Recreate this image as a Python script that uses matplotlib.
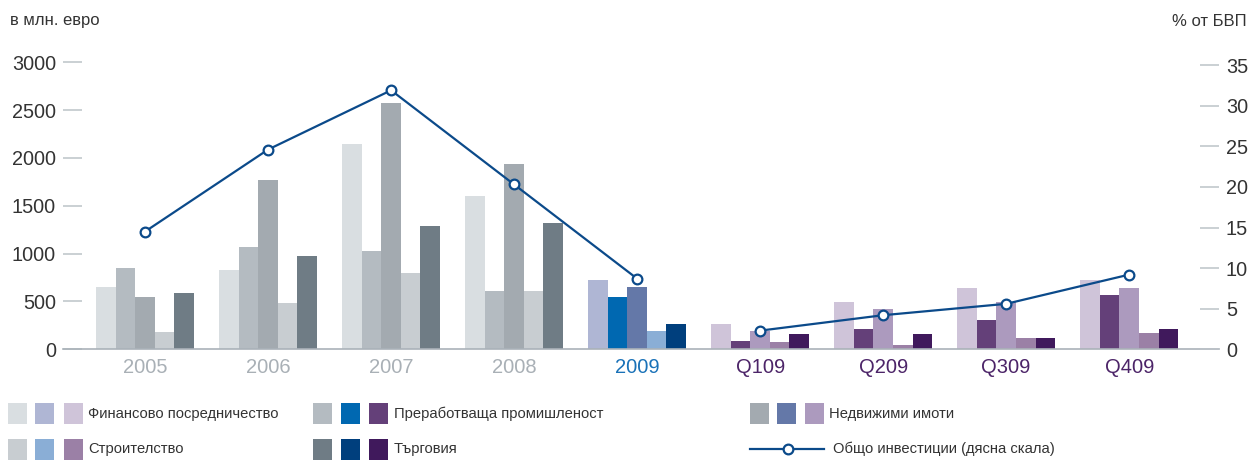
import matplotlib.pyplot as plt
from matplotlib.patches import Rectangle
from matplotlib.lines import Line2D

plt.rcParams['font.family'] = ['Liberation Sans', 'DejaVu Sans']

# Данни
periods = ['2005', '2006', '2007', '2008', '2009', 'Q109', 'Q209', 'Q309', 'Q409']
finance = [651, 829, 2145, 1602, 724, 264, 494, 640, 724]
manufacturing = [850, 1069, 1027, 609, 547, 87, 212, 306, 567]
real_estate = [547, 1770, 2574, 1936, 651, 191, 421, 490, 640]
construction = [181, 484, 797, 609, 191, 76, 45, 118, 170]
trade = [588, 975, 1288, 1320, 264, 160, 160, 118, 212]
total_pct = [14.5, 24.6, 31.9, 20.3, 8.7, 2.3, 4.2, 5.6, 9.2]

series_names = ['Финансово посредничество', 'Преработваща промишленост', 'Недвижими имоти',
                'Строителство', 'Търговия']
line_name = 'Общо инвестиции (дясна скала)'

# цветове: години 2005-2008 (сиви), 2009 (сини), тримесечия (лилави)
grey = ['#d9dee1', '#b4bbc1', '#a3aab0', '#c8cdd1', '#6f7c85']
blue = ['#afb6d4', '#0068b1', '#6478a8', '#8aaed6', '#003f7d']
purple = ['#cfc4d9', '#644079', '#ac9abe', '#9b80a6', '#40195c']
label_colors = ['#a9b0b6'] * 4 + ['#1a72b8'] + ['#4c2468'] * 4
line_color = '#0b4a8a'
tick_color = '#bcc3c8'
text_color = '#333333'

W, H = 1251, 461
fig = plt.figure(figsize=(W / 100, H / 100), dpi=100)
ax = fig.add_axes([63 / W, (H - 349.3) / H, (1219 - 63) / W, 301.4 / H])
ax2 = ax.twinx()

data = [finance, manufacturing, real_estate, construction, trade]
bw = 0.159
x = list(range(len(periods)))
for j, vals in enumerate(data):
    cols = [grey[j]] * 4 + [blue[j]] + [purple[j]] * 4
    ax.bar([i + (j - 2) * bw for i in x], vals, width=bw, color=cols, linewidth=0, zorder=2)

# линия - две отделни части (години и тримесечия)
for sl in (slice(0, 5), slice(5, 9)):
    ax2.plot(x[sl], total_pct[sl], color=line_color, lw=1.6, marker='o', ms=7,
             mfc='white', mec=line_color, mew=1.6, zorder=3)

ax.set_xlim(-0.667, 8.73)
ax.set_ylim(0, 3150)
ax2.set_ylim(0, 3150 * 35 / 2970)
ax.set_yticks(range(0, 3001, 500))
ax2.set_yticks(range(0, 36, 5))
ax.set_xticks(x)
ax.set_xticklabels(periods, fontsize=14.5)
for lbl, c in zip(ax.get_xticklabels(), label_colors):
    lbl.set_color(c)
ax.tick_params(axis='x', length=0, pad=6)
ax.tick_params(axis='y', direction='in', length=13.7, width=1.1, color=tick_color,
               labelsize=14.3, labelcolor=text_color, pad=5)
ax2.tick_params(axis='y', direction='in', length=13.7, width=1.1, color=tick_color,
                labelsize=14.3, labelcolor=text_color, pad=5)
for a in (ax, ax2):
    for s in ['top', 'left', 'right']:
        a.spines[s].set_visible(False)
ax.spines['bottom'].set_color('#aab2b9')
ax.spines['bottom'].set_linewidth(1.2)
ax2.spines['bottom'].set_visible(False)

fig.text(10 / W, 1 - 21 / H, 'в млн. евро', fontsize=12, color=text_color, va='center', ha='left')
fig.text(1247 / W, 1 - 21 / H, '% от БВП', fontsize=12, color=text_color, va='center', ha='right')

# легенда
sw, sh = 19, 21
swatch_x = [[8, 35, 64], [313, 341, 369], [750, 777, 805]]
text_x = [88, 394, 829]
rows_y = [413.5, 449]
slots = [(0, 0), (0, 1), (0, 2), (1, 0), (1, 1)]
for k, (r, c) in enumerate(slots):
    palette = [grey[k], blue[k], purple[k]]
    for sx, col in zip(swatch_x[c], palette):
        fig.add_artist(Rectangle((sx / W, 1 - (rows_y[r] + sh / 2) / H), sw / W, sh / H,
                                 transform=fig.transFigure, color=col, lw=0))
    fig.text(text_x[c] / W, 1 - rows_y[r] / H, series_names[k], fontsize=10.6,
             color=text_color, va='center', ha='left')

ly = 1 - rows_y[1] / H
fig.add_artist(Line2D([750 / W, 824 / W], [ly, ly], transform=fig.transFigure,
                      color=line_color, lw=1.6))
fig.add_artist(Line2D([788 / W], [ly], transform=fig.transFigure, marker='o', ms=7,
                      mfc='white', mec=line_color, mew=1.6, color=line_color))
fig.text(833 / W, ly, line_name, fontsize=10.6, color=text_color, va='center', ha='left')

fig.savefig('out.png', dpi=100)
